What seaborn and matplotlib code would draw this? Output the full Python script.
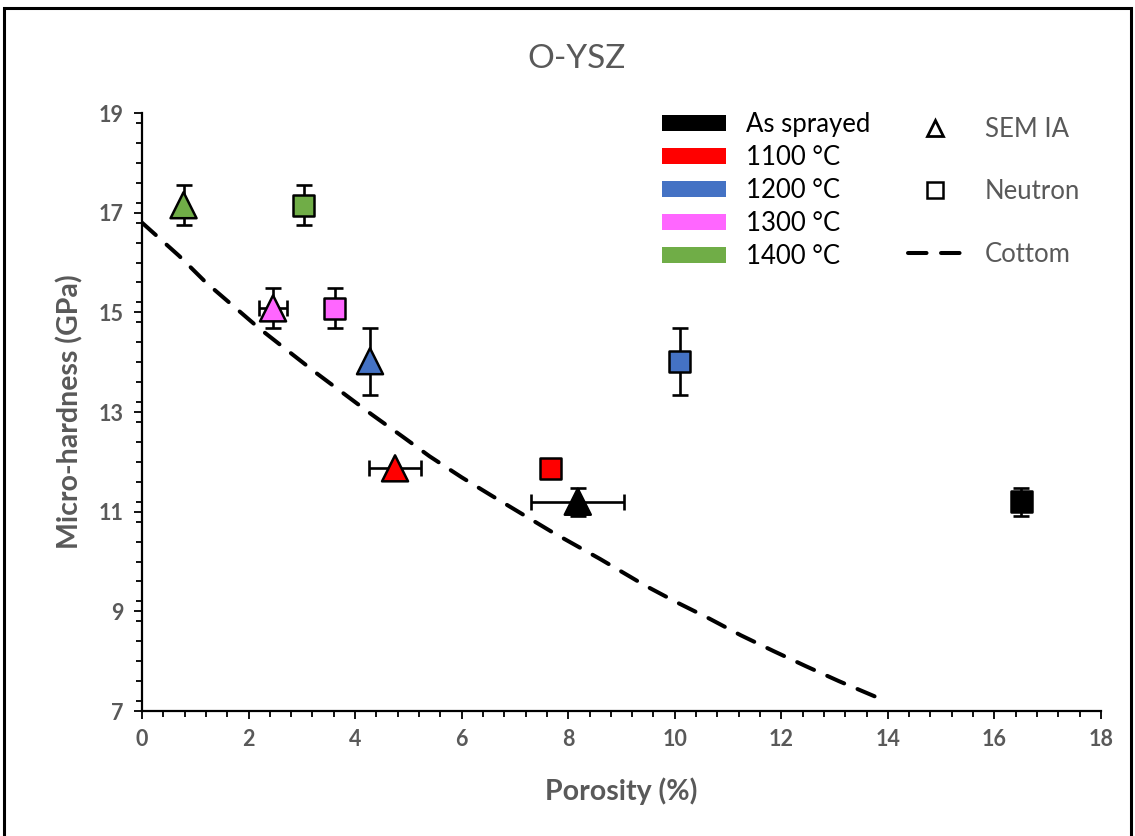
import matplotlib
matplotlib.use("Agg")
import matplotlib.pyplot as plt
import matplotlib.patches as mpatches
from matplotlib.lines import Line2D
from matplotlib.ticker import MultipleLocator
import seaborn as sns
import pandas as pd

# ---------------- data ----------------
treatments = ["As sprayed", "1100 °C", "1200 °C", "1300 °C", "1400 °C"]
colors = ["#000000", "#FF0000", "#4472C4", "#FF66FF", "#70AD47"]

sem_porosity = [8.18, 4.75, 4.28, 2.46, 0.78]
sem_porosity_err = [0.87, 0.48, 0.0, 0.27, 0.0]
neutron_porosity = [16.5, 7.67, 10.09, 3.62, 3.04]
hardness = [11.2, 11.87, 14.02, 15.08, 17.15]
hardness_err = [0.28, 0.0, 0.67, 0.40, 0.40]

cottom_porosity = [0.0, 0.7, 1.2, 1.7, 2.2, 2.7, 3.25, 3.8, 4.3, 4.9, 5.4, 6.0,
                   6.55, 7.7, 8.6, 9.44, 10.04, 10.64, 11.24, 11.86, 12.46,
                   13.08, 13.85]
cottom_hardness = [16.8, 16.13, 15.6, 15.14, 14.68, 14.26, 13.8, 13.36, 12.96,
                   12.5, 12.11, 11.69, 11.33, 10.59, 10.05, 9.52, 9.18, 8.86,
                   8.52, 8.2, 7.9, 7.6, 7.25]

x_ticks = [0, 2, 4, 6, 8, 10, 12, 14, 16, 18]
y_ticks = [7, 9, 11, 13, 15, 17, 19]

title = "O-YSZ"
x_label = "Porosity (%)"
y_label = "Micro-hardness (GPa)"

# ---------------- frames ----------------
sem_df = pd.DataFrame({"porosity": sem_porosity, "hardness": hardness,
                       "treatment": treatments})
neu_df = pd.DataFrame({"porosity": neutron_porosity, "hardness": hardness,
                       "treatment": treatments})
cot_df = pd.DataFrame({"porosity": cottom_porosity, "hardness": cottom_hardness})
palette = dict(zip(treatments, colors))

sns.set_style("white")
FONT = ["Lato", "DejaVu Sans"]
plt.rcParams["font.family"] = FONT
GREY = "#595959"

fig = plt.figure(figsize=(11.35, 8.36), dpi=100)
ax = fig.add_axes([0.1251, 0.1495, 0.8449, 0.7153])

# Cottom line
sns.lineplot(data=cot_df, x="porosity", y="hardness", ax=ax, color="black",
             lw=2.9, linestyle=(0, (4.6, 3.6)), dash_capstyle="round",
             sort=False, legend=False, zorder=2)

# error bars (beneath markers)
for i in range(len(treatments)):
    xe = sem_porosity_err[i] if sem_porosity_err[i] > 0 else None
    ye = hardness_err[i] if hardness_err[i] > 0 else None
    if xe is not None or ye is not None:
        ax.errorbar(sem_porosity[i], hardness[i], xerr=xe, yerr=ye, fmt="none",
                    ecolor="black", elinewidth=1.9, capsize=6, capthick=1.9,
                    zorder=3)
    if ye is not None:
        ax.errorbar(neutron_porosity[i], hardness[i], yerr=ye, fmt="none",
                    ecolor="black", elinewidth=1.9, capsize=6, capthick=1.9,
                    zorder=3)

sns.scatterplot(data=sem_df, x="porosity", y="hardness", hue="treatment",
                palette=palette, marker="^", s=350, edgecolor="black",
                linewidth=1.8, ax=ax, legend=False, zorder=4)
sns.scatterplot(data=neu_df, x="porosity", y="hardness", hue="treatment",
                palette=palette, marker="s", s=230, edgecolor="black",
                linewidth=1.8, ax=ax, legend=False, zorder=4)

# axes styling
ax.set_xlim(x_ticks[0], x_ticks[-1])
ax.set_ylim(y_ticks[0], y_ticks[-1])
ax.set_xticks(x_ticks)
ax.set_yticks(y_ticks)
ax.xaxis.set_minor_locator(MultipleLocator(0.4))
ax.yaxis.set_minor_locator(MultipleLocator(0.4))
for s in ["top", "right"]:
    ax.spines[s].set_visible(False)
for s in ["left", "bottom"]:
    ax.spines[s].set_color("black")
    ax.spines[s].set_linewidth(1.6)
ax.tick_params(which="major", direction="out", length=6, width=1.3,
               color="black", bottom=True, left=True, pad=7)
ax.tick_params(which="minor", direction="out", length=4.5, width=1.3,
               color="black", bottom=True, left=True)
for lab in ax.get_xticklabels() + ax.get_yticklabels():
    lab.set_fontsize(15.5)
    lab.set_fontweight("bold")
    lab.set_color(GREY)
ax.set_xlabel(x_label, fontsize=20.5, fontweight="bold", color=GREY, labelpad=20)
ax.set_ylabel(y_label, fontsize=20.5, fontweight="bold", color=GREY, labelpad=11)
ax.grid(False)

fig.text(0.508, 0.93, title, ha="center", va="center", fontsize=24, color=GREY)

# legend 1: treatments
h1 = [mpatches.Patch(facecolor=c, edgecolor="none") for c in colors]
leg1 = fig.legend(h1, treatments, loc="upper left",
                  bbox_to_anchor=(0.583, 0.866), frameon=False, fontsize=18.5,
                  handlelength=2.5, handleheight=0.55, handletextpad=0.78,
                  labelspacing=0.31, borderpad=0, borderaxespad=0)
for t in leg1.get_texts():
    t.set_color("black")

# legend 2: methods
h2 = [Line2D([], [], linestyle="none", marker="^", ms=11, mfc="none",
             mec="black", mew=2),
      Line2D([], [], linestyle="none", marker="s", ms=11, mfc="none",
             mec="black", mew=1.8),
      Line2D([], [], color="black", lw=2.9, linestyle=(0, (4.6, 3.6)),
             dash_capstyle="round")]
leg2 = fig.legend(h2, ["SEM IA", "Neutron", "Cottom"], loc="upper left",
                  bbox_to_anchor=(0.800, 0.860), frameon=False, fontsize=18.5,
                  handlelength=2.1, handletextpad=0.9, labelspacing=1.45,
                  borderpad=0, borderaxespad=0)
for t in leg2.get_texts():
    t.set_color(GREY)

# outer frame
fig.patches.append(mpatches.Rectangle((0.0035, -0.02), 0.993, 1.0105,
                                      transform=fig.transFigure, fill=False,
                                      edgecolor="black", linewidth=2.2))

fig.savefig("out.png", dpi=100)
